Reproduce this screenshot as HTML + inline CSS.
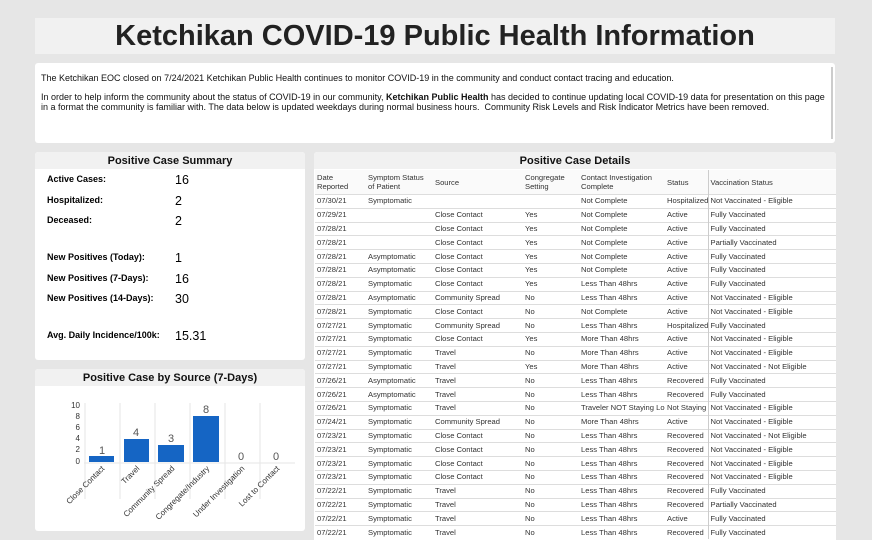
<!DOCTYPE html>
<html><head><meta charset="utf-8"><style>
html,body{margin:0;width:872px;height:540px;overflow:hidden}
body{background:#e6e6e6;font-family:"Liberation Sans",Arial,sans-serif;position:relative}
.p{position:absolute;background:#fff;border-radius:3px;overflow:hidden}
.t{background:#f1f1f1;font-weight:bold;text-align:center;color:#111}
#title{position:absolute;left:35px;top:18px;width:800px;height:36px;background:#f1f1f1;font-size:29px;font-weight:bold;text-align:center;line-height:37px;color:#222}
#info{left:35px;top:63px;width:800px;height:80px;font-size:9px;color:#111}
#info p{margin:0;position:absolute;left:6px;width:785px;line-height:10px}
.lab{position:absolute;left:12px;font-size:9px;font-weight:bold}
.val{position:absolute;left:140px;font-size:12.5px}
table{border-collapse:collapse;font-size:7.6px;color:#333;position:absolute;left:1px;top:18px;width:522px;table-layout:fixed}
td{height:12.8px;padding:0 0 0 2px;border-top:1px solid #ddd;white-space:nowrap;overflow:hidden;line-height:12px}
th{font-weight:normal;text-align:left;padding:0 0 0 2px;height:24px;line-height:9px;vertical-align:middle;background:#fafafa}
td:nth-child(6),th:nth-child(6){border-right:1px solid #ccc}
</style></head><body>
<div id="title">Ketchikan COVID-19 Public Health Information</div>
<div class="p" id="info">
<p style="top:10px">The Ketchikan EOC closed on 7/24/2021 Ketchikan Public Health continues to monitor COVID-19 in the community and conduct contact tracing and education.</p>
<p style="top:29px">In order to help inform the community about the status of COVID-19 in our community, <b>Ketchikan Public Health</b> has decided to continue updating local COVID-19 data for presentation on this page in a format the community is familiar with. The data below is updated weekdays during normal business hours.&nbsp; Community Risk Levels and Risk Indicator Metrics have been removed.</p>
<div style="position:absolute;right:2px;top:4px;width:2px;height:72px;background:#ccc"></div>
</div>

<div class="p" style="left:35px;top:152px;width:270px;height:208px">
<div class="t" style="height:17px;line-height:19px;font-size:11px">Positive Case Summary</div>
<div class="lab" style="top:22px">Active Cases:</div><div class="val" style="top:21px">16</div>
<div class="lab" style="top:43px">Hospitalized:</div><div class="val" style="top:42px">2</div>
<div class="lab" style="top:63px">Deceased:</div><div class="val" style="top:62px">2</div>
<div class="lab" style="top:100px">New Positives (Today):</div><div class="val" style="top:99px">1</div>
<div class="lab" style="top:121px">New Positives (7-Days):</div><div class="val" style="top:120px">16</div>
<div class="lab" style="top:141px">New Positives (14-Days):</div><div class="val" style="top:140px">30</div>
<div class="lab" style="top:178px">Avg. Daily Incidence/100k:</div><div class="val" style="top:177px">15.31</div>
</div>

<div class="p" style="left:35px;top:369px;width:270px;height:162px">
<div class="t" style="height:17px;line-height:19px;font-size:11px">Positive Case by Source (7-Days)</div>
<svg width="270" height="162" style="position:absolute;left:0;top:0" font-family="Liberation Sans,Arial,sans-serif">
<g stroke="#e6e6e6"><line x1="50" y1="34" x2="50" y2="130"/><line x1="85" y1="34" x2="85" y2="130"/><line x1="120" y1="34" x2="120" y2="130"/><line x1="155" y1="34" x2="155" y2="130"/><line x1="190" y1="34" x2="190" y2="130"/><line x1="225" y1="34" x2="225" y2="130"/><line x1="49" y1="94" x2="260" y2="94"/></g>
<g font-size="8" fill="#333" text-anchor="end"><text x="45" y="39">10</text><text x="45" y="50">8</text><text x="45" y="61">6</text><text x="45" y="72">4</text><text x="45" y="83">2</text><text x="45" y="95">0</text></g>
<g fill="#1565c4"><rect x="54" y="87" width="25" height="6"/><rect x="89" y="70" width="25" height="23"/><rect x="123" y="76" width="26" height="17"/><rect x="158" y="47" width="26" height="46"/></g>
<g font-size="11" fill="#555" text-anchor="middle"><text x="67" y="85">1</text><text x="101" y="67">4</text><text x="136" y="73">3</text><text x="171" y="44">8</text><text x="206" y="91">0</text><text x="241" y="91">0</text></g>
<g font-size="8" fill="#333" text-anchor="end">
<text transform="translate(70,100) rotate(-45)">Close Contact</text>
<text transform="translate(105,100) rotate(-45)">Travel</text>
<text transform="translate(140,100) rotate(-45)">Community Spread</text>
<text transform="translate(175,100) rotate(-45)">Congregate/Industry</text>
<text transform="translate(210,100) rotate(-45)">Under Investigation</text>
<text transform="translate(245,100) rotate(-45)">Lost to Contact</text>
</g></svg>
</div>

<div class="p" style="left:314px;top:152px;width:522px;height:388px;border-radius:3px 3px 0 0">
<div class="t" style="height:17px;line-height:19px;font-size:11px">Positive Case Details</div>
<table>
<colgroup><col style="width:51px"><col style="width:67px"><col style="width:90px"><col style="width:56px"><col style="width:86px"><col style="width:43px"><col></colgroup>
<tr><th>Date<br>Reported</th><th>Symptom Status<br>of Patient</th><th>Source</th><th>Congregate<br>Setting</th><th>Contact Investigation<br>Complete</th><th>Status</th><th>Vaccination Status</th></tr>
<tr><td>07/30/21</td><td>Symptomatic</td><td></td><td></td><td>Not Complete</td><td>Hospitalized</td><td>Not Vaccinated - Eligible</td></tr>
<tr><td>07/29/21</td><td></td><td>Close Contact</td><td>Yes</td><td>Not Complete</td><td>Active</td><td>Fully Vaccinated</td></tr>
<tr><td>07/28/21</td><td></td><td>Close Contact</td><td>Yes</td><td>Not Complete</td><td>Active</td><td>Fully Vaccinated</td></tr>
<tr><td>07/28/21</td><td></td><td>Close Contact</td><td>Yes</td><td>Not Complete</td><td>Active</td><td>Partially Vaccinated</td></tr>
<tr><td>07/28/21</td><td>Asymptomatic</td><td>Close Contact</td><td>Yes</td><td>Not Complete</td><td>Active</td><td>Fully Vaccinated</td></tr>
<tr><td>07/28/21</td><td>Asymptomatic</td><td>Close Contact</td><td>Yes</td><td>Not Complete</td><td>Active</td><td>Fully Vaccinated</td></tr>
<tr><td>07/28/21</td><td>Symptomatic</td><td>Close Contact</td><td>Yes</td><td>Less Than 48hrs</td><td>Active</td><td>Fully Vaccinated</td></tr>
<tr><td>07/28/21</td><td>Asymptomatic</td><td>Community Spread</td><td>No</td><td>Less Than 48hrs</td><td>Active</td><td>Not Vaccinated - Eligible</td></tr>
<tr><td>07/28/21</td><td>Symptomatic</td><td>Close Contact</td><td>No</td><td>Not Complete</td><td>Active</td><td>Not Vaccinated - Eligible</td></tr>
<tr><td>07/27/21</td><td>Symptomatic</td><td>Community Spread</td><td>No</td><td>Less Than 48hrs</td><td>Hospitalized</td><td>Fully Vaccinated</td></tr>
<tr><td>07/27/21</td><td>Symptomatic</td><td>Close Contact</td><td>Yes</td><td>More Than 48hrs</td><td>Active</td><td>Not Vaccinated - Eligible</td></tr>
<tr><td>07/27/21</td><td>Symptomatic</td><td>Travel</td><td>No</td><td>More Than 48hrs</td><td>Active</td><td>Not Vaccinated - Eligible</td></tr>
<tr><td>07/27/21</td><td>Symptomatic</td><td>Travel</td><td>Yes</td><td>More Than 48hrs</td><td>Active</td><td>Not Vaccinated - Not Eligible</td></tr>
<tr><td>07/26/21</td><td>Asymptomatic</td><td>Travel</td><td>No</td><td>Less Than 48hrs</td><td>Recovered</td><td>Fully Vaccinated</td></tr>
<tr><td>07/26/21</td><td>Asymptomatic</td><td>Travel</td><td>No</td><td>Less Than 48hrs</td><td>Recovered</td><td>Fully Vaccinated</td></tr>
<tr><td>07/26/21</td><td>Symptomatic</td><td>Travel</td><td>No</td><td>Traveler NOT Staying Lo</td><td>Not Staying</td><td>Not Vaccinated - Eligible</td></tr>
<tr><td>07/24/21</td><td>Symptomatic</td><td>Community Spread</td><td>No</td><td>More Than 48hrs</td><td>Active</td><td>Not Vaccinated - Eligible</td></tr>
<tr><td>07/23/21</td><td>Symptomatic</td><td>Close Contact</td><td>No</td><td>Less Than 48hrs</td><td>Recovered</td><td>Not Vaccinated - Not Eligible</td></tr>
<tr><td>07/23/21</td><td>Symptomatic</td><td>Close Contact</td><td>No</td><td>Less Than 48hrs</td><td>Recovered</td><td>Not Vaccinated - Eligible</td></tr>
<tr><td>07/23/21</td><td>Symptomatic</td><td>Close Contact</td><td>No</td><td>Less Than 48hrs</td><td>Recovered</td><td>Not Vaccinated - Eligible</td></tr>
<tr><td>07/23/21</td><td>Symptomatic</td><td>Close Contact</td><td>No</td><td>Less Than 48hrs</td><td>Recovered</td><td>Not Vaccinated - Eligible</td></tr>
<tr><td>07/22/21</td><td>Symptomatic</td><td>Travel</td><td>No</td><td>Less Than 48hrs</td><td>Recovered</td><td>Fully Vaccinated</td></tr>
<tr><td>07/22/21</td><td>Symptomatic</td><td>Travel</td><td>No</td><td>Less Than 48hrs</td><td>Recovered</td><td>Partially Vaccinated</td></tr>
<tr><td>07/22/21</td><td>Symptomatic</td><td>Travel</td><td>No</td><td>Less Than 48hrs</td><td>Active</td><td>Fully Vaccinated</td></tr>
<tr><td>07/22/21</td><td>Symptomatic</td><td>Travel</td><td>No</td><td>Less Than 48hrs</td><td>Recovered</td><td>Fully Vaccinated</td></tr>
</table>
</div>
</body></html>
